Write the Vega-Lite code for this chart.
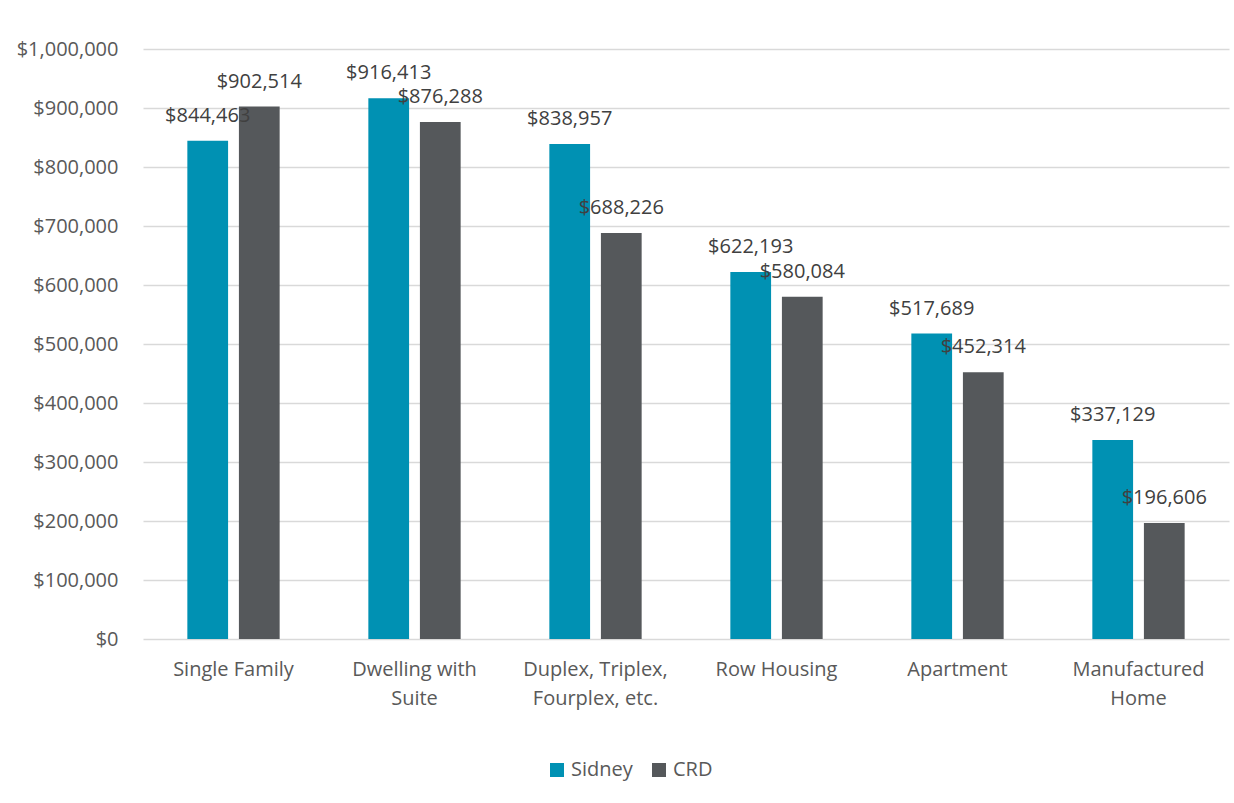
{
  "$schema": "https://vega.github.io/schema/vega-lite/v6.json",
  "width": 1086,
  "height": 590,
  "autosize": {"type": "none"},
  "padding": {"left": 143, "top": 49, "right": 5, "bottom": 164},
  "background": "white",
  "config": {
    "font": "Open Sans",
    "view": {"stroke": null},
    "axis": {"labelFont": "Open Sans", "labelFontSize": 20, "labelColor": "#595959"},
    "legend": {"labelFont": "Open Sans", "labelFontSize": 20, "labelColor": "#595959"}
  },
  "data": {
    "values": [
      {"category": "Single Family", "series": "Sidney", "value": 844463},
      {"category": "Single Family", "series": "CRD", "value": 902514},
      {"category": "Dwelling with Suite", "series": "Sidney", "value": 916413},
      {"category": "Dwelling with Suite", "series": "CRD", "value": 876288},
      {"category": "Duplex, Triplex, Fourplex, etc.", "series": "Sidney", "value": 838957},
      {"category": "Duplex, Triplex, Fourplex, etc.", "series": "CRD", "value": 688226},
      {"category": "Row Housing", "series": "Sidney", "value": 622193},
      {"category": "Row Housing", "series": "CRD", "value": 580084},
      {"category": "Apartment", "series": "Sidney", "value": 517689},
      {"category": "Apartment", "series": "CRD", "value": 452314},
      {"category": "Manufactured Home", "series": "Sidney", "value": 337129},
      {"category": "Manufactured Home", "series": "CRD", "value": 196606}
    ]
  },
  "encoding": {
    "x": {
      "field": "category",
      "type": "nominal",
      "sort": null,
      "scale": {"paddingInner": 0.49, "paddingOuter": 0.245},
      "axis": {
        "title": null,
        "labelAngle": 0,
        "domain": false,
        "ticks": false,
        "labelPadding": 20,
        "labelLineHeight": 29,
        "labelFontSize": 20,
        "labelExpr": "datum.value == 'Dwelling with Suite' ? ['Dwelling with', 'Suite'] : datum.value == 'Duplex, Triplex, Fourplex, etc.' ? ['Duplex, Triplex,', 'Fourplex, etc.'] : datum.value == 'Manufactured Home' ? ['Manufactured', 'Home'] : datum.value"
      }
    },
    "xOffset": {
      "field": "series",
      "type": "nominal",
      "sort": ["Sidney", "CRD"],
      "scale": {"paddingInner": 0.21, "paddingOuter": 0}
    },
    "y": {
      "field": "value",
      "type": "quantitative",
      "scale": {"domain": [0, 1000000], "nice": false},
      "axis": {
        "title": null,
        "format": "$,.0f",
        "values": [0, 100000, 200000, 300000, 400000, 500000, 600000, 700000, 800000, 900000, 1000000],
        "labelOverlap": false,
        "labelFontSize": 20,
        "domain": false,
        "ticks": false,
        "labelPadding": 25,
        "gridColor": "#d9d9d9",
        "gridWidth": 1.3
      }
    }
  },
  "layer": [
    {
      "mark": {"type": "bar"},
      "encoding": {
        "color": {
          "field": "series",
          "type": "nominal",
          "sort": ["Sidney", "CRD"],
          "scale": {"domain": ["Sidney", "CRD"], "range": ["#0091b3", "#55585b"]},
          "legend": {
            "title": null,
            "orient": "none",
            "direction": "horizontal",
            "legendX": 404,
            "legendY": 711,
            "symbolType": "square",
            "symbolSize": 196,
            "symbolStrokeWidth": 0,
            "labelFontSize": 20,
            "columnPadding": 16,
            "labelOffset": 4
          }
        }
      }
    },
    {
      "mark": {"type": "text", "baseline": "alphabetic", "dy": -19, "fontSize": 20, "color": "#404040", "font": "Open Sans"},
      "encoding": {
        "text": {"field": "value", "type": "quantitative", "format": "$,.0f"}
      }
    }
  ]
}
